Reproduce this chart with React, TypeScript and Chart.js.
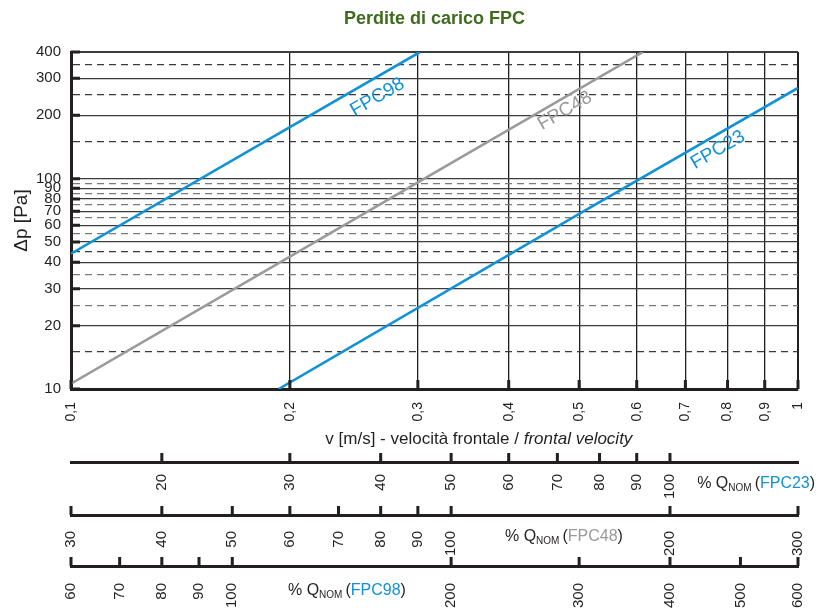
import React, { useEffect, useRef } from 'react';
import { Chart, registerables } from 'chart.js';

Chart.register(...registerables);

// ---------- text ----------
const TITLE = 'Perdite di carico FPC';
const Y_TITLE = 'Δp [Pa]';
const X_TITLE_NORMAL = 'v [m/s] - velocità frontale / ';
const X_TITLE_ITALIC = 'frontal velocity';
const Q_PREFIX = '% Q';
const Q_SUB = 'NOM';

// ---------- axes ----------
const V_TICKS = [0.1, 0.2, 0.3, 0.4, 0.5, 0.6, 0.7, 0.8, 0.9, 1];
const V_LABELS = ['0,1', '0,2', '0,3', '0,4', '0,5', '0,6', '0,7', '0,8', '0,9', '1'];
const V_RANGE = [0.1, 1];
const DP_RANGE = [10, 400];
const DP_MAJOR = [10, 20, 30, 40, 50, 60, 70, 80, 90, 100, 200, 300, 400];
const DP_MINOR = [15, 25, 35, 45, 55, 65, 75, 85, 95, 150, 250, 350];
const DP_MINOR_LIGHT = [25, 35, 55, 65, 75, 85, 95];

// % Q_NOM secondary axes (range matches v = 0.1 .. 1)
const Q23_RANGE = [15, 150];
const Q23_TICKS = [20, 30, 40, 50, 60, 70, 80, 90, 100];
const Q48_RANGE = [30, 300];
const Q48_TICKS = [30, 40, 50, 60, 70, 80, 90, 100, 200, 300];
const Q98_RANGE = [60, 600];
const Q98_TICKS = [60, 70, 80, 90, 100, 200, 300, 400, 500, 600];

// ---------- series ----------
const SERIES_NAMES = ['FPC98', 'FPC48', 'FPC23'];
const FPC98_V = [0.1, 0.2, 0.302];
const FPC98_DP = [44, 176, 400];
const FPC48_V = [0.1, 0.3, 0.612];
const FPC48_DP = [10.6, 96, 400];
const FPC23_V = [0.193, 0.5, 1];
const FPC23_DP = [10, 68, 270];

// in-chart series labels (centre, data coordinates)
const LABEL_V = [0.264, 0.478, 0.776];
const LABEL_DP = [244, 210, 137];

// % Q_NOM caption anchors (value on the own axis)
const Q_CAPTION_AT = [109, 118.6, 119.3];

// ---------- style ----------
const FONT = "'Liberation Sans', Arial, sans-serif";
const DARK = '#231f20';
const BLUE = '#0f92d6';
const GREY = '#9a9a9a';
const GREEN = '#3e6b1c';
const SERIES_COLORS = [BLUE, GREY, BLUE];

const toPoints = (xs: number[], ys: number[]) => xs.map((x, i) => ({ x, y: ys[i] }));

const overlayPlugin = {
  id: 'overlay',
  afterDraw(chart: any) {
    const { ctx, chartArea: ca, scales } = chart;
    const xs = scales.x;
    const ys = scales.y;
    ctx.save();

    // inner tick marks on main axes
    ctx.strokeStyle = DARK;
    ctx.lineWidth = 3;
    ctx.beginPath();
    for (const v of V_TICKS) {
      const px = xs.getPixelForValue(v);
      ctx.moveTo(px, ca.bottom);
      ctx.lineTo(px, ca.bottom - 9);
    }
    for (const d of DP_MAJOR) {
      const py = ys.getPixelForValue(d);
      ctx.moveTo(ca.left, py);
      ctx.lineTo(ca.left + 9, py);
    }
    ctx.stroke();

    // upward tick marks on % axes
    const qAxes: [string, number[]][] = [['q23', Q23_TICKS], ['q48', Q48_TICKS], ['q98', Q98_TICKS]];
    for (const [id, ticks] of qAxes) {
      const s = scales[id];
      ctx.beginPath();
      for (const t of ticks) {
        const px = s.getPixelForValue(t);
        ctx.moveTo(px, s.top);
        ctx.lineTo(px, s.top - 9);
      }
      ctx.stroke();
    }

    // x axis title (mixed upright / italic)
    ctx.fillStyle = DARK;
    ctx.textBaseline = 'alphabetic';
    ctx.textAlign = 'left';
    ctx.font = `17px ${FONT}`;
    const w1 = ctx.measureText(X_TITLE_NORMAL).width;
    ctx.font = `italic 17px ${FONT}`;
    const w2 = ctx.measureText(X_TITLE_ITALIC).width;
    const cx = ca.left + 0.561 * (ca.right - ca.left);
    const sx = cx - (w1 + w2) / 2;
    const by = xs.top + 55;
    ctx.font = `17px ${FONT}`;
    ctx.fillText(X_TITLE_NORMAL, sx, by);
    ctx.font = `italic 17px ${FONT}`;
    ctx.fillText(X_TITLE_ITALIC, sx + w1, by);

    // % Q_NOM captions
    const capOffsets = [26, 26, 29];
    ['q23', 'q48', 'q98'].forEach((id, i) => {
      const s = scales[id];
      let x = s.getPixelForValue(Q_CAPTION_AT[i]);
      const base = s.top + capOffsets[i];
      const name = ['FPC23', 'FPC48', 'FPC98'][i];
      const col = [BLUE, GREY, BLUE][i];
      ctx.fillStyle = DARK;
      ctx.font = `16px ${FONT}`;
      ctx.fillText(Q_PREFIX, x, base);
      x += ctx.measureText(Q_PREFIX).width;
      ctx.font = `10px ${FONT}`;
      ctx.fillText(Q_SUB, x, base + 3);
      x += ctx.measureText(Q_SUB).width + 3;
      ctx.font = `16px ${FONT}`;
      ctx.fillText('(', x, base);
      x += ctx.measureText('(').width;
      ctx.fillStyle = col;
      ctx.fillText(name, x, base);
      x += ctx.measureText(name).width;
      ctx.fillStyle = DARK;
      ctx.fillText(')', x, base);
    });

    // series labels along the lines
    const seriesV = [FPC98_V, FPC48_V, FPC23_V];
    const seriesDP = [FPC98_DP, FPC48_DP, FPC23_DP];
    SERIES_NAMES.forEach((name, i) => {
      const vx = seriesV[i];
      const vy = seriesDP[i];
      const x1 = xs.getPixelForValue(vx[0]);
      const y1 = ys.getPixelForValue(vy[0]);
      const x2 = xs.getPixelForValue(vx[vx.length - 1]);
      const y2 = ys.getPixelForValue(vy[vy.length - 1]);
      const ang = Math.atan2(y2 - y1, x2 - x1);
      const px = xs.getPixelForValue(LABEL_V[i]);
      const py = ys.getPixelForValue(LABEL_DP[i]);
      ctx.save();
      ctx.translate(px, py);
      ctx.rotate(ang);
      ctx.textAlign = 'center';
      ctx.textBaseline = 'middle';
      ctx.font = `19px ${FONT}`;
      ctx.fillStyle = SERIES_COLORS[i];
      ctx.fillText(name, 0, 0);
      ctx.restore();
    });

    ctx.restore();
  },
};

const fixHorizontal = (height: number) => (s: any) => {
  s.height = height;
  s.paddingLeft = 0;
  s.paddingRight = 0;
};

function qAxis(range: number[], ticks: number[], height: number, padding: number, weight: number) {
  return {
    type: 'logarithmic',
    position: 'bottom',
    weight,
    min: range[0],
    max: range[1],
    bounds: 'data',
    afterBuildTicks: (s: any) => {
      s.ticks = ticks.map((value) => ({ value }));
    },
    afterFit: fixHorizontal(height),
    ticks: {
      autoSkip: false,
      minRotation: 90,
      maxRotation: 90,
      padding,
      color: DARK,
      font: { family: FONT, size: 15 },
      callback: (val: number) => String(val),
    },
    grid: { display: true, drawOnChartArea: false, drawTicks: false },
    border: { display: true, color: DARK, width: 3 },
  };
}

export default function App() {
  const canvasRef = useRef<HTMLCanvasElement | null>(null);

  useEffect(() => {
    const canvas = canvasRef.current;
    if (!canvas) return;
    const chart = new Chart(canvas, {
      type: 'line',
      data: {
        datasets: [
          { label: SERIES_NAMES[0], data: toPoints(FPC98_V, FPC98_DP), borderColor: SERIES_COLORS[0] },
          { label: SERIES_NAMES[1], data: toPoints(FPC48_V, FPC48_DP), borderColor: SERIES_COLORS[1] },
          { label: SERIES_NAMES[2], data: toPoints(FPC23_V, FPC23_DP), borderColor: SERIES_COLORS[2] },
        ].map((d) => ({ ...d, borderWidth: 2.6, pointRadius: 0, fill: false, tension: 0, xAxisID: 'x', yAxisID: 'y' })),
      },
      options: {
        responsive: false,
        animation: false,
        devicePixelRatio: 1,
        layout: { padding: { left: 0, right: 27, top: 0, bottom: 0 } },
        plugins: {
          legend: { display: false },
          tooltip: { enabled: false },
          title: {
            display: true,
            text: TITLE,
            fullSize: false,
            color: GREEN,
            font: { family: FONT, size: 18, weight: 'bold', lineHeight: 1.2 },
            padding: { top: 8, bottom: 22.4 },
          },
        },
        scales: {
          x: {
            type: 'logarithmic',
            position: 'bottom',
            weight: 0,
            min: V_RANGE[0],
            max: V_RANGE[1],
            bounds: 'data',
            afterBuildTicks: (s: any) => {
              s.ticks = V_TICKS.map((value) => ({ value }));
            },
            afterFit: fixHorizontal(73),
            ticks: {
              autoSkip: false,
              minRotation: 90,
              maxRotation: 90,
              padding: 13,
              color: DARK,
              font: { family: FONT, size: 14 },
              callback: (_v: number, i: number) => V_LABELS[i],
            },
            grid: {
              drawTicks: false,
              color: DARK,
              lineWidth: (c: any) => (c.tick && c.tick.value === V_RANGE[1] ? 2 : 1.3),
            },
            border: { display: true, color: DARK, width: 3 },
          },
          q23: qAxis(Q23_RANGE, Q23_TICKS, 53, 12, 1),
          q48: qAxis(Q48_RANGE, Q48_TICKS, 51, 16, 2),
          q98: qAxis(Q98_RANGE, Q98_TICKS, 43, 17, 3),
          y: {
            type: 'logarithmic',
            position: 'left',
            min: DP_RANGE[0],
            max: DP_RANGE[1],
            bounds: 'data',
            afterBuildTicks: (s: any) => {
              s.ticks = [...DP_MAJOR, ...DP_MINOR].sort((a, b) => a - b).map((value) => ({ value }));
            },
            afterFit: (s: any) => {
              s.width = 71;
            },
            ticks: {
              autoSkip: false,
              padding: 10,
              color: DARK,
              font: { family: FONT, size: 15 },
              callback: (val: number) => (DP_MAJOR.includes(val) ? String(val) : ''),
            },
            grid: {
              drawTicks: false,
              color: (c: any) => {
                if (!c.tick) return DARK;
                const v = c.tick.value;
                if (DP_MINOR_LIGHT.includes(v)) return '#7a7a7a';
                if (DP_MINOR.includes(v)) return '#3a3a3a';
                return '#3c3c3c';
              },
              lineWidth: (c: any) => (c.tick && c.tick.value === DP_RANGE[1] ? 2 : 1.3),
            },
            border: {
              display: true,
              color: DARK,
              width: 3,
              dash: (c: any) => (c.tick && DP_MINOR.includes(c.tick.value) ? [7, 5] : []),
            },
            title: {
              display: true,
              text: Y_TITLE,
              color: DARK,
              font: { family: FONT, size: 19 },
              padding: { top: 10, bottom: 0 },
            },
          },
        },
      } as any,
      plugins: [overlayPlugin],
    });
    return () => chart.destroy();
  }, []);

  return (
    <div style={{ position: 'fixed', left: 0, top: 0, width: 825, height: 609, background: '#fff' }}>
      <canvas ref={canvasRef} width={825} height={609} style={{ display: 'block' }} />
    </div>
  );
}
